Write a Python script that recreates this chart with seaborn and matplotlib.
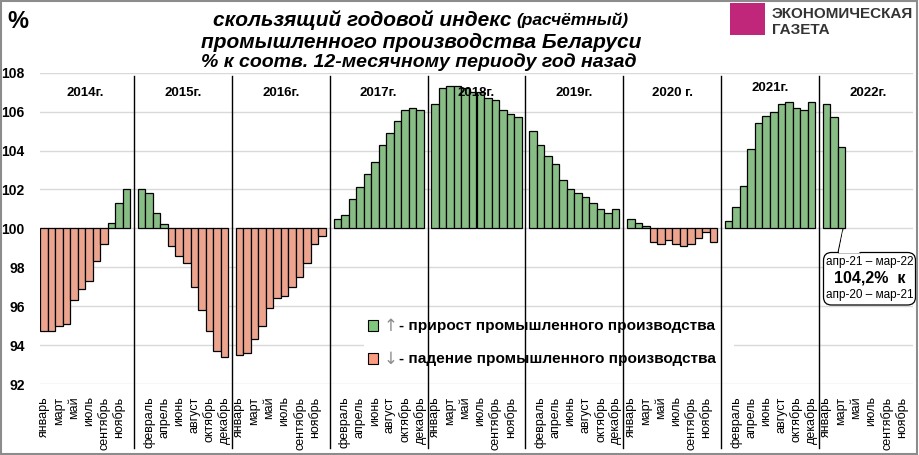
import numpy as np
import pandas as pd
import matplotlib
matplotlib.use('Agg')
import matplotlib.pyplot as plt
from matplotlib.patches import Rectangle, FancyBboxPatch, Polygon
import seaborn as sns

# monthly rolling annual index, % to same 12-month period a year earlier
months = ['январь', 'февраль', 'март', 'апрель', 'май', 'июнь',
          'июль', 'август', 'сентябрь', 'октябрь', 'ноябрь', 'декабрь']
years = ['2014г.', '2015г.', '2016г.', '2017г.', '2018г.', '2019г.', '2020 г.', '2021г.', '2022г.']

y2014 = [94.7, 94.7, 95.0, 95.1, 96.3, 96.9, 97.3, 98.3, 99.2, 100.3, 101.3, 102.0]
y2015 = [102.0, 101.8, 100.8, 100.2, 99.1, 98.6, 98.2, 97.0, 95.8, 94.7, 93.7, 93.4]
y2016 = [93.5, 93.6, 94.3, 95.0, 95.9, 96.4, 96.5, 97.0, 97.5, 98.2, 99.2, 99.6]
y2017 = [100.5, 100.7, 101.5, 102.1, 102.8, 103.4, 104.3, 104.9, 105.5, 106.1, 106.2, 106.1]
y2018 = [106.4, 107.2, 107.3, 107.3, 107.2, 107.0, 107.0, 106.7, 106.6, 106.1, 105.9, 105.7]
y2019 = [105.0, 104.3, 103.7, 103.3, 102.5, 102.0, 101.8, 101.6, 101.3, 101.0, 100.8, 101.0]
y2020 = [100.5, 100.3, 100.1, 99.3, 99.2, 99.4, 99.2, 99.1, 99.2, 99.5, 99.8, 99.3]
y2021 = [100.4, 101.1, 102.2, 104.1, 105.4, 105.8, 106.0, 106.4, 106.5, 106.2, 106.1, 106.5]
y2022 = [106.4, 105.7, 104.2]

series = [y2014, y2015, y2016, y2017, y2018, y2019, y2020, y2021, y2022]

# one slot per month plus an empty slot between years
rows = []
labels = []
slot = 0
for i, vals in enumerate(series):
    for m in range(12):
        if m < len(vals):
            rows.append({'slot': slot, 'value': vals[m],
                         'sign': 'up' if vals[m] >= 100 else 'down'})
        labels.append(months[m])
        slot += 1
    if i < len(series) - 1:
        labels.append('')
        slot += 1
n_slots = slot

df = pd.DataFrame(rows)
df['height'] = df['value'] - 100

plt.rcParams['font.family'] = ['Liberation Sans', 'DejaVu Sans']

fig = plt.figure(figsize=(9.19, 4.55), dpi=100)
ax = fig.add_axes([40 / 919, 1 - 384 / 455, 873 / 919, 311.3 / 455])

sns.barplot(data=df, x='slot', y='height', hue='sign', order=list(range(n_slots)),
            hue_order=['up', 'down'], palette={'up': '#7FC77C', 'down': '#FB9B80'},
            width=1, bottom=100, edgecolor='black', linewidth=0.9,
            errorbar=None, legend=False, ax=ax, zorder=3)

ax.set_ylim(92, 108)
ax.set_xlim(-0.5, n_slots - 0.5)
ax.set_yticks(np.arange(92, 109, 2))
ax.set_yticklabels([str(v) for v in range(92, 109, 2)], fontsize=10, fontweight='bold')
ax.set_xticks(range(0, n_slots, 2))
ax.set_xticklabels(labels[::2], rotation=90, fontsize=9, va='top')
ax.tick_params(axis='both', length=0)
ax.tick_params(axis='x', pad=9)
ax.tick_params(axis='y', pad=11)
ax.set_xlabel('')
ax.set_ylabel('')
for s in ax.spines.values():
    s.set_visible(False)
ax.grid(axis='y', color='#d9d9d9', linewidth=1, zorder=0)
ax.set_axisbelow(True)

# year dividers and year labels
for k in range(len(years)):
    if k > 0:
        ax.axvline(13 * k - 1, ymin=-0.205, ymax=0.989, color='black',
                   linewidth=1, clip_on=False, zorder=6)
    ax.text(13 * k + 5.5, 107.2 if years[k] == '2021г.' else 106.95, years[k],
            ha='center', va='center', fontsize=9.5, fontweight='bold', zorder=7)

# legend block
ax.add_patch(Rectangle((42.5, 92.4), 49.2, 3.2, facecolor='white', edgecolor='none', zorder=4))
for yv, col, arrow, txt in [(95.0, '#7FC77C', '↑', '- прирост промышленного производства'),
                            (93.3, '#FB9B80', '↓', '- падение промышленного производства')]:
    ax.add_patch(Rectangle((43.1, yv - 0.27), 1.3, 0.54, facecolor=col,
                           edgecolor='black', linewidth=0.8, zorder=5))
    ax.text(45.1, yv, arrow, color='#8c8c8c', fontsize=12, ha='left', va='center',
            family=['DejaVu Sans'], zorder=5)
    ax.text(47.2, yv, txt, fontsize=11.1, fontweight='bold', ha='left', va='center', zorder=5)

# callout for last value (drawn in pixel-like inch coordinates)
inch = fig.dpi_scale_trans
H = 4.55
box = FancyBboxPatch((8.235, H - 3.05), 0.92, 0.525,
                     boxstyle='round,pad=0,rounding_size=0.08', transform=inch,
                     facecolor='white', edgecolor='black', linewidth=0.9, clip_on=False, zorder=8)
ax.add_patch(box)
tail = Polygon([(8.43, H - 2.29), (8.38, H - 2.527), (8.61, H - 2.527)], closed=False,
               transform=inch, facecolor='white', edgecolor='black', linewidth=0.8,
               clip_on=False, zorder=9)
ax.add_patch(tail)
ax.add_patch(Polygon([(8.43, H - 2.3), (8.388, H - 2.533), (8.6, H - 2.533)], closed=True,
                     transform=inch, facecolor='white', edgecolor='none', clip_on=False, zorder=9))
ax.text(8.695, H - 2.62, 'апр-21 – мар-22', transform=inch, ha='center', va='center',
        fontsize=8.5, zorder=10)
ax.text(8.695, H - 2.78, '104,2%  к', transform=inch, ha='center', va='center',
        fontsize=11.5, fontweight='bold', zorder=10)
ax.text(8.695, H - 2.95, 'апр-20 – мар-21', transform=inch, ha='center', va='center',
        fontsize=8.5, zorder=10)

# titles
fig.text(511 / 919, 1 - 20 / 455, 'скользящий годовой индекс', ha='right', va='center',
         fontsize=15, fontweight='bold', style='italic')
fig.text(516 / 919, 1 - 20 / 455, '(расчётный)', ha='left', va='center',
         fontsize=12.5, fontweight='bold', style='italic')
fig.text(421 / 919, 1 - 42 / 455, 'промышленного производства Беларуси', ha='center',
         va='center', fontsize=15, fontweight='bold', style='italic')
fig.text(419 / 919, 1 - 62 / 455, '% к соотв. 12-месячному периоду год назад', ha='center',
         va='center', fontsize=14, fontweight='bold', style='italic')
fig.text(18 / 919, 1 - 21 / 455, '%', ha='center', va='center', fontsize=17, fontweight='bold')

# logo
fig.patches.append(Rectangle((730 / 919, 1 - 35 / 455), 35 / 919, 32 / 455,
                             transform=fig.transFigure, facecolor='#C0267A', edgecolor='none'))
fig.text(772 / 919, 1 - 14 / 455, 'ЭКОНОМИЧЕСКАЯ', ha='left', va='center',
         fontsize=11, fontweight='bold', color='#333333')
fig.text(772 / 919, 1 - 30 / 455, 'ГАЗЕТА', ha='left', va='center',
         fontsize=11, fontweight='bold', color='#333333')

# outer frame
fig.patches.append(Rectangle((0.001, 0.002), 0.997, 0.995, transform=fig.transFigure,
                             facecolor='none', edgecolor='#8c8c8c', linewidth=1.5))

fig.savefig('out.png', dpi=100)
